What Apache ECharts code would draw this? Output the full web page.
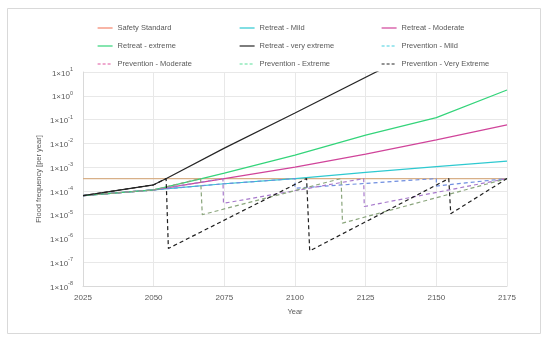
<!DOCTYPE html>
<html>
<head>
<meta charset="utf-8">
<script src="https://cdn.jsdelivr.net/npm/echarts@6/dist/echarts.min.js"></script>
<style>html,body{margin:0;padding:0;background:#fff;}#c{width:550px;height:339px;}</style>
</head>
<body>
<div id="c"></div>
<script>
// ---- data (year, flood frequency per year) ----
var xTicks = [2025, 2050, 2075, 2100, 2125, 2150, 2175];
var yExponents = [-8, -7, -6, -5, -4, -3, -2, -1, 0, 1];

var safetyStandard = [[2025, 3.3e-4], [2175, 3.3e-4]];
var retreatMild = [[2025, 6.3e-5], [2050, 1.1e-4], [2075, 2.0e-4], [2100, 3.3e-4], [2125, 6.0e-4], [2150, 1.05e-3], [2175, 1.8e-3]];
var retreatModerate = [[2025, 6.3e-5], [2050, 1.1e-4], [2075, 3.3e-4], [2100, 1.0e-3], [2125, 3.5e-3], [2150, 1.4e-2], [2175, 6.0e-2]];
var retreatExtreme = [[2025, 6.3e-5], [2050, 1.1e-4], [2067, 3.3e-4], [2075, 5.6e-4], [2100, 3.2e-3], [2125, 2.2e-2], [2150, 1.2e-1], [2175, 1.75]];
var retreatVeryExtreme = [[2025, 6.3e-5], [2050, 1.8e-4], [2054.5, 3.3e-4], [2075, 6.3e-3], [2100, 1.9e-1], [2130, 1.2e1]];
var preventionMild = [[2025, 6.3e-5], [2050, 1.1e-4], [2075, 2.0e-4], [2100, 3.3e-4], [2100, 1.3e-4], [2150, 3.3e-4], [2150, 1.6e-4], [2175, 3.3e-4]];
var preventionModerate = [[2025, 6.3e-5], [2050, 1.1e-4], [2074.5, 3.3e-4], [2074.7, 3.0e-5], [2124.3, 3.3e-4], [2124.5, 2.2e-5], [2175, 3.3e-4]];
var preventionExtreme = [[2025, 6.3e-5], [2050, 1.1e-4], [2066.6, 3.3e-4], [2067.2, 1.0e-5], [2116.3, 3.3e-4], [2116.8, 4.4e-6], [2175, 3.3e-4]];
var preventionVeryExtreme = [[2025, 6.3e-5], [2050, 1.8e-4], [2054.4, 3.3e-4], [2055.2, 3.8e-7], [2104.1, 3.3e-4], [2105.2, 3.0e-7], [2154.4, 3.3e-4], [2155.1, 1.1e-5], [2175, 3.3e-4]];

var chart = echarts.init(document.getElementById('c'), null, {renderer: 'canvas'});
var FONT = '"Liberation Sans", Arial, sans-serif';
var TXT = '#595959';

function ser(name, data, color, dashed, z) {
  return {
    name: name, type: 'line', data: data, symbol: 'none', z: z || 2,
    lineStyle: {color: color, width: 1.2, type: dashed ? [4, 3] : 'solid'},
    itemStyle: {color: color},
    emphasis: {disabled: true}, animation: false
  };
}
function legendItem(name, color, dashed) {
  return {name: name, lineStyle: {color: color, width: 1.2, type: dashed ? [3, 2] : 'solid'}, itemStyle: {color: color, opacity: 0}};
}
function legend(x, items) {
  return {
    orient: 'vertical', left: x - 5, top: 19, itemWidth: 15, itemHeight: 10, itemGap: 10,
    selectedMode: false,
    textStyle: {fontSize: 7.5, color: TXT, fontFamily: FONT},
    data: items
  };
}

var option = {
  backgroundColor: '#ffffff',
  animation: false,
  graphic: [{type: 'rect', shape: {x: 7.5, y: 8.5, width: 533, height: 325}, style: {fill: 'none', stroke: '#d9d9d9', lineWidth: 1}, silent: true}],
  legend: [
    legend(97, [legendItem('Safety Standard', '#f4846c'), legendItem('Retreat - extreme', '#33d47a'), legendItem('Prevention - Moderate', '#e0559f', true)]),
    legend(239, [legendItem('Retreat - Mild', '#2ec9d0'), legendItem('Retreat - very extreme', '#262626'), legendItem('Prevention - Extreme', '#5be09a', true)]),
    legend(381, [legendItem('Retreat - Moderate', '#d0449a'), legendItem('Prevention - Mild', '#45d0e0', true), legendItem('Prevention - Very Extreme', '#262626', true)])
  ],
  grid: {left: 83, right: 43, top: 72, bottom: 53, containLabel: false},
  xAxis: {
    type: 'value', min: 2025, max: 2175, interval: 25,
    name: 'Year', nameLocation: 'middle', nameGap: 22, nameMoveOverlap: false,
    nameTextStyle: {fontSize: 7.5, color: TXT, fontFamily: FONT},
    axisLine: {show: true, lineStyle: {color: '#d9d9d9'}},
    axisTick: {show: false},
    axisLabel: {fontSize: 8, color: TXT, fontFamily: FONT, margin: 8,
      formatter: function (v) { return xTicks.indexOf(v) >= 0 ? String(v) : ''; }},
    splitLine: {show: true, lineStyle: {color: '#e8e8e8', width: 1}}
  },
  yAxis: {
    type: 'log', logBase: 10, min: Math.pow(10, yExponents[0]), max: Math.pow(10, yExponents[yExponents.length - 1]), splitNumber: 9,
    name: 'Flood frequency [per year]', nameLocation: 'middle', nameGap: 40, nameRotate: 90, nameMoveOverlap: false,
    nameTextStyle: {fontSize: 7.5, color: TXT, fontFamily: FONT},
    axisLine: {show: true, lineStyle: {color: '#d9d9d9'}},
    axisTick: {show: false},
    axisLabel: {
      margin: 10, color: TXT, fontFamily: FONT,
      formatter: function (v) {
        var e = Math.round(Math.log(v) / Math.LN10);
        return '{a|1\u00d710}{b|' + e + '}';
      },
      rich: {
        a: {fontSize: 8, color: TXT, fontFamily: FONT, verticalAlign: 'bottom', lineHeight: 11},
        b: {fontSize: 5.5, color: TXT, fontFamily: FONT, verticalAlign: 'top', lineHeight: 11, padding: [0, 0, 4, 0]}
      }
    },
    splitLine: {show: true, lineStyle: {color: '#e8e8e8', width: 1}}
  },
  series: [
    ser('Safety Standard', safetyStandard, '#d8b088', false, 2),
    ser('Retreat - Mild', retreatMild, '#2ec9d0', false, 3),
    ser('Retreat - Moderate', retreatModerate, '#d0449a', false, 3),
    ser('Retreat - extreme', retreatExtreme, '#33d47a', false, 3),
    ser('Retreat - very extreme', retreatVeryExtreme, '#262626', false, 3),
    ser('Prevention - Mild', preventionMild, '#6f8ee0', true, 4),
    ser('Prevention - Moderate', preventionModerate, '#a779cc', true, 4),
    ser('Prevention - Extreme', preventionExtreme, '#8aa57c', true, 4),
    ser('Prevention - Very Extreme', preventionVeryExtreme, '#1f1f1f', true, 5)
  ]
};
chart.setOption(option);
</script>
</body>
</html>
